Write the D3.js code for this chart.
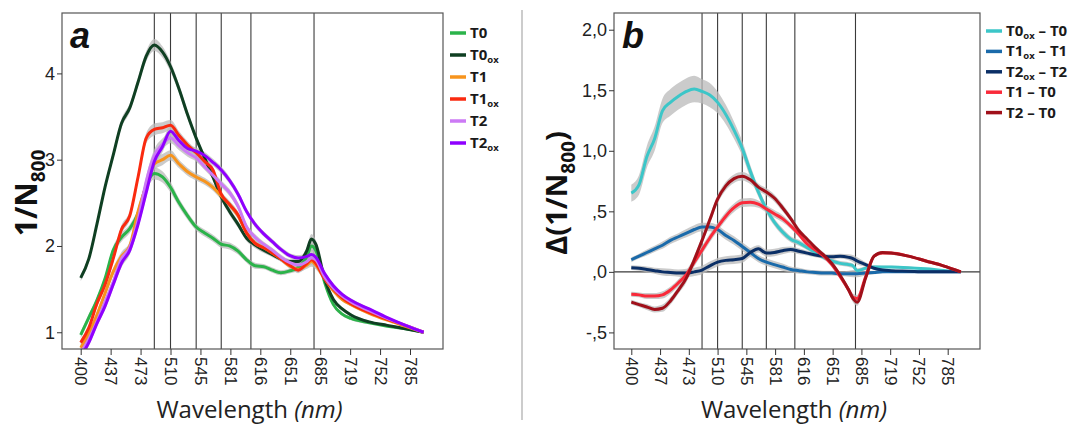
<!DOCTYPE html>
<html>
<head>
<meta charset="utf-8">
<script src="https://cdn.jsdelivr.net/npm/d3@7/dist/d3.min.js"></script>
<style>
  body { margin: 0; background: #fff; }
  svg { display: block; }
  .tick text { font-family: "Liberation Sans", Arial, sans-serif; font-size: 17px; fill: #222; }
  .yaxis .tick text { font-size: 18px; }
  .axis path { display: none; }
  .axis line { stroke: #333; }
</style>
</head>
<body>
<div id="chart"></div>
<script>
// wavelength grid (nm) shared by all series
const wavelengths = [400,410,420,430,440,450,460,470,480,490,500,510,520,530,540,550,560,570,580,590,
                     600,610,620,630,640,650,660,670,675,680,690,700,710,720,740,760,780,800];
const tickWavelengths = [400,437,473,510,545,581,616,651,685,719,752,785];
const refLines = [490,510,540,570,605,678];

// panel a : 1/N800
const T0   = [0.97,1.17,1.37,1.62,1.95,2.10,2.20,2.38,2.70,2.84,2.80,2.68,2.50,2.35,2.22,2.15,2.09,2.02,2.00,1.94,
              1.84,1.77,1.76,1.72,1.69,1.71,1.75,1.88,2.00,1.95,1.58,1.32,1.21,1.16,1.11,1.07,1.04,1.00];
const T0ox = [1.63,1.85,2.25,2.68,3.05,3.42,3.60,3.90,4.20,4.33,4.25,4.08,3.82,3.52,3.25,3.02,2.80,2.57,2.40,2.25,
              2.09,2.01,1.95,1.90,1.85,1.82,1.82,1.95,2.08,2.02,1.62,1.38,1.27,1.20,1.12,1.08,1.04,1.00];
const T1   = [0.82,0.98,1.20,1.45,1.70,1.88,2.00,2.40,2.70,2.95,3.00,3.05,2.95,2.86,2.80,2.75,2.68,2.58,2.48,2.35,
              2.15,2.03,1.98,1.92,1.85,1.77,1.73,1.78,1.82,1.78,1.62,1.48,1.38,1.32,1.22,1.14,1.07,1.00];
const T1ox = [0.88,1.05,1.33,1.55,1.85,2.19,2.35,2.80,3.25,3.35,3.37,3.40,3.28,3.17,3.08,2.98,2.88,2.60,2.48,2.36,
              2.15,2.03,1.98,1.92,1.85,1.78,1.72,1.80,1.84,1.80,1.62,1.50,1.40,1.33,1.23,1.15,1.08,1.00];
const T2   = [0.76,0.92,1.12,1.35,1.58,1.85,1.98,2.30,2.75,3.05,3.18,3.25,3.16,3.08,3.02,2.92,2.82,2.72,2.62,2.46,
              2.22,2.10,2.02,1.95,1.87,1.81,1.78,1.82,1.86,1.84,1.64,1.51,1.42,1.35,1.25,1.16,1.08,1.00];
const T2ox = [0.72,0.88,1.10,1.30,1.55,1.80,1.95,2.25,2.62,2.98,3.15,3.33,3.22,3.13,3.10,3.05,2.97,2.88,2.76,2.60,
              2.40,2.25,2.14,2.05,1.96,1.89,1.86,1.88,1.90,1.87,1.68,1.54,1.44,1.37,1.27,1.17,1.08,1.00];
// half width of the grey confidence band, panel a
const bandA = [0.04,0.04,0.04,0.04,0.045,0.05,0.05,0.05,0.06,0.07,0.065,0.06,0.05,0.045,0.04,0.04,0.04,0.04,0.04,0.04,
               0.035,0.035,0.03,0.03,0.03,0.03,0.035,0.045,0.06,0.05,0.03,0.025,0.02,0.02,0.015,0.01,0.005,0.0];

// panel b : differences
const dT0ox = [0.65,0.72,0.95,1.10,1.33,1.40,1.45,1.49,1.51,1.49,1.46,1.40,1.30,1.17,1.02,0.83,0.66,0.52,0.41,0.33,
               0.27,0.24,0.20,0.16,0.12,0.09,0.07,0.06,0.05,0.01,0.03,0.04,0.04,0.04,0.035,0.025,0.012,0.0];
const dT1ox = [0.10,0.13,0.16,0.19,0.22,0.26,0.29,0.32,0.35,0.37,0.37,0.35,0.30,0.26,0.21,0.16,0.11,0.08,0.06,0.04,
               0.02,0.01,0.0,-0.005,-0.01,-0.01,-0.015,-0.015,-0.015,-0.015,-0.01,-0.005,0.0,0.0,0.0,0.0,0.0,0.0];
const dT2ox = [0.035,0.03,0.02,0.01,0.0,-0.005,-0.01,-0.01,0.0,0.015,0.05,0.08,0.095,0.10,0.11,0.16,0.19,0.155,0.16,0.175,
               0.185,0.17,0.155,0.14,0.13,0.125,0.13,0.12,0.11,0.09,0.06,0.03,0.015,0.01,0.005,0.0,0.0,0.0];
const dT1T0 = [-0.185,-0.19,-0.20,-0.20,-0.19,-0.15,-0.09,-0.02,0.08,0.18,0.28,0.37,0.46,0.53,0.57,0.575,0.56,0.52,0.48,0.44,
               0.38,0.31,0.23,0.18,0.13,0.06,-0.04,-0.15,-0.21,-0.22,-0.04,0.13,0.155,0.155,0.13,0.09,0.05,0.0];
const dT2T0 = [-0.25,-0.27,-0.29,-0.31,-0.30,-0.24,-0.15,-0.05,0.10,0.26,0.43,0.60,0.71,0.77,0.79,0.76,0.70,0.66,0.61,0.53,
               0.44,0.34,0.27,0.20,0.14,0.07,-0.03,-0.15,-0.22,-0.25,-0.05,0.13,0.16,0.155,0.13,0.09,0.05,0.0];
// half width of the grey band, panel b (cyan series has its own, wider one)
const bandCyan = [0.07,0.08,0.09,0.10,0.10,0.11,0.11,0.11,0.11,0.10,0.10,0.09,0.08,0.07,0.06,0.05,0.04,0.035,0.03,0.03,
                  0.025,0.025,0.02,0.02,0.02,0.02,0.02,0.02,0.02,0.02,0.015,0.015,0.01,0.01,0.01,0.005,0.005,0.0];
const bandB = [0.02,0.02,0.025,0.025,0.03,0.03,0.03,0.035,0.035,0.035,0.035,0.035,0.035,0.035,0.035,0.035,0.03,0.03,0.03,0.03,
               0.025,0.025,0.02,0.02,0.02,0.02,0.02,0.025,0.03,0.03,0.02,0.015,0.012,0.01,0.008,0.005,0.003,0.0];

const W = 1071, H = 425;
const svg = d3.select("#chart").append("svg").attr("width", W).attr("height", H);

const panels = [
  {
    id: "a", left: 62, right: 443, top: 13, bottom: 349, x400: 80.7, x785: 410,
    yDomain: [0.806, 4.70], yTicks: [1,2,3,4], yFmt: d3.format("d"),
    yTitle: ["1/N", "800", ""], titleX: 27, titleSize: 30,
    legX: 450, legY: 33, legStep: 22,
    series: [
      { name: ["T0", ""],  vals: T0,   color: "#2bb34a", band: bandA },
      { name: ["T0", "ox"], vals: T0ox, color: "#0f3f22", band: bandA },
      { name: ["T1", ""],  vals: T1,   color: "#f7941d", band: bandA },
      { name: ["T1", "ox"], vals: T1ox, color: "#fa2a0f", band: bandA },
      { name: ["T2", ""],  vals: T2,   color: "#cc7af5", band: bandA },
      { name: ["T2", "ox"], vals: T2ox, color: "#8f00ff", band: bandA }
    ]
  },
  {
    id: "b", left: 614, right: 980, top: 13, bottom: 349, x400: 631.3, x785: 947.7, zero: true,
    yDomain: [-0.637, 2.138], yTicks: [-0.5,0,0.5,1,1.5,2],
    yFmt: v => d3.format(".1f")(v).replace("\u2212", "-").replace(".", ",").replace(/^(-?)0,/, "$1,"),
    yTitle: ["\u0394(1/N", "800", ")"], titleX: 557, titleSize: 29,
    legX: 986, legY: 31, legStep: 20.4,
    series: [
      { name: ["T0", "ox", " \u2013 T0"], vals: dT0ox, color: "#3cc6c8", band: bandCyan },
      { name: ["T1", "ox", " \u2013 T1"], vals: dT1ox, color: "#1a6aaa", band: bandB },
      { name: ["T2", "ox", " \u2013 T2"], vals: dT2ox, color: "#0b2f66", band: bandB },
      { name: ["T1 \u2013 T0", ""],       vals: dT1T0, color: "#f92a3a", band: bandB },
      { name: ["T2 \u2013 T0", ""],       vals: dT2T0, color: "#a0101a", band: bandB }
    ]
  }
];

panels.forEach(function(p){
  const step = (p.x785 - p.x400) / (tickWavelengths.length - 1);
  const x = d3.scaleLinear()
    .domain(tickWavelengths)
    .range(tickWavelengths.map((d, i) => p.x400 + i * step));
  const y = d3.scaleLinear().domain(p.yDomain).range([p.bottom, p.top]);

  const g = svg.append("g");
  const clipId = "clip-" + p.id;
  svg.append("clipPath").attr("id", clipId)
    .append("rect").attr("x", p.left).attr("y", p.top)
    .attr("width", p.right - p.left).attr("height", p.bottom - p.top);

  // reference lines
  g.selectAll(".ref").data(refLines).enter().append("line")
    .attr("x1", d => x(d)).attr("x2", d => x(d))
    .attr("y1", p.top).attr("y2", p.bottom)
    .attr("stroke", "#3a3a3a").attr("stroke-width", 1.1);
  if (p.zero) {
    g.append("line").attr("x1", p.left).attr("x2", p.right)
      .attr("y1", y(0)).attr("y2", y(0))
      .attr("stroke", "#3a3a3a").attr("stroke-width", 1.1);
  }

  const plot = g.append("g").attr("clip-path", "url(#" + clipId + ")");
  const line = d3.line().curve(d3.curveMonotoneX)
    .x((d, i) => x(wavelengths[i])).y(d => y(d));

  plot.selectAll(".band").data(p.series).enter().append("path")
    .attr("d", s => d3.area().curve(d3.curveMonotoneX)
      .x((d, i) => x(wavelengths[i]))
      .y0((d, i) => y(d - s.band[i])).y1((d, i) => y(d + s.band[i]))(s.vals))
    .attr("fill", "#b9b9b9").attr("opacity", 0.75);
  plot.selectAll(".ser").data(p.series).enter().append("path")
    .attr("d", s => line(s.vals))
    .attr("fill", "none").attr("stroke", s => s.color)
    .attr("stroke-width", 3).attr("stroke-linejoin", "round");

  // frame
  g.append("rect").attr("x", p.left).attr("y", p.top)
    .attr("width", p.right - p.left).attr("height", p.bottom - p.top)
    .attr("fill", "none").attr("stroke", "#555").attr("stroke-width", 1.2);

  // axes
  const xa = g.append("g").attr("class", "axis")
    .attr("transform", "translate(0," + p.bottom + ")")
    .call(d3.axisBottom(x).tickValues(tickWavelengths).tickSize(6).tickSizeOuter(0));
  xa.selectAll("text")
    .attr("transform", "rotate(90)")
    .attr("x", 8).attr("y", 0).attr("dy", "0.35em")
    .style("text-anchor", "start");

  g.append("g").attr("class", "axis yaxis")
    .attr("transform", "translate(" + p.left + ",0)")
    .call(d3.axisLeft(y).tickValues(p.yTicks).tickFormat(p.yFmt).tickSize(5).tickSizeOuter(0))
    .selectAll("text").attr("x", -7);

  // titles
  const xt = g.append("text")
    .attr("x", (p.left + p.right) / 2 - 3).attr("y", 418)
    .attr("text-anchor", "middle")
    .style("font-family", "'Open Sans', sans-serif").style("font-size", "24px").style("fill", "#222");
  xt.append("tspan").text("Wavelength ");
  xt.append("tspan").style("font-style", "italic").text("(nm)");

  const cy = (p.top + p.bottom) / 2 + 12;
  const yt = g.append("text")
    .attr("transform", "translate(" + (p.titleX + 10) + "," + cy + ") rotate(-90)")
    .attr("text-anchor", "middle")
    .style("font-family", "'Open Sans', sans-serif").style("font-weight", "700")
    .style("font-size", p.titleSize + "px").style("fill", "#111");
  yt.append("tspan").text(p.yTitle[0]);
  yt.append("tspan").attr("dy", 8).style("font-size", "19px").text(p.yTitle[1]);
  if (p.yTitle[2]) yt.append("tspan").attr("dy", -8).text(p.yTitle[2]);

  g.append("text").attr("x", p.left + 8).attr("y", 48)
    .style("font-family", "'Liberation Sans', Arial, sans-serif")
    .style("font-weight", "700").style("font-style", "italic")
    .style("font-size", "36px").style("fill", "#111").text(p.id);

  // legend
  const leg = g.selectAll(".leg").data(p.series).enter().append("g")
    .attr("transform", (d, i) => "translate(" + p.legX + "," + (p.legY + i * p.legStep) + ")");
  leg.append("line").attr("x1", 0).attr("x2", 16).attr("y1", 0).attr("y2", 0)
    .attr("stroke", d => d.color).attr("stroke-width", 3.5);
  const lt = leg.append("text").attr("x", 20).attr("y", 5)
    .style("font-family", "'Open Sans', sans-serif").style("font-weight", "700")
    .style("font-size", "15px").style("fill", "#1a1a1a");
  lt.append("tspan").text(d => d.name[0]);
  lt.filter(d => d.name[1]).append("tspan").attr("dy", 3)
    .style("font-size", "9.5px").text(d => d.name[1]);
  lt.filter(d => d.name[2]).append("tspan").attr("dy", -3).text(d => d.name[2]);
});

// divider between panels
svg.append("line").attr("x1", 522).attr("x2", 522).attr("y1", 10).attr("y2", 420)
  .attr("stroke", "#999").attr("stroke-width", 1);
</script>
</body>
</html>
